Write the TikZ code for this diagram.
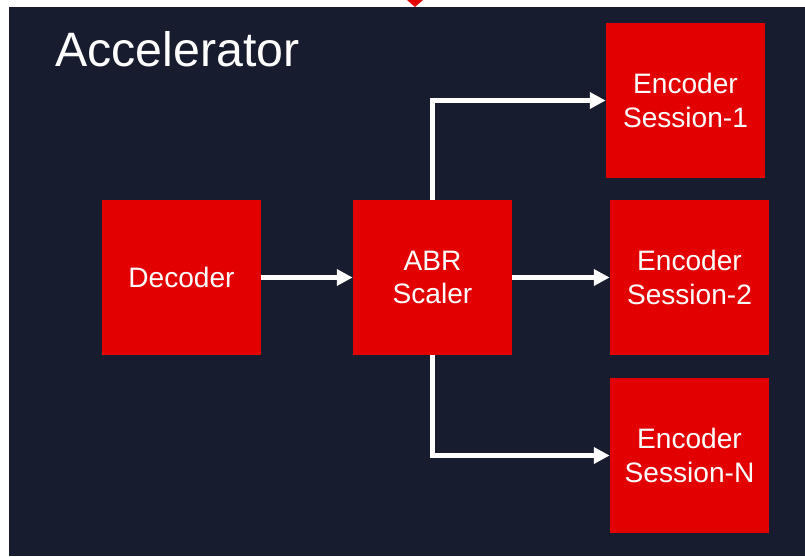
\documentclass[tikz,border=0pt]{standalone}
\usepackage{fontspec}
\setmainfont{Liberation Sans}
\usepackage{tikz}
\usetikzlibrary{arrows.meta}
\definecolor{navy}{HTML}{171C2E}
\definecolor{hwred}{HTML}{E30000}
\definecolor{text}{HTML}{FFFFFF}
\tikzset{
  block/.style={fill=hwred, minimum width=3.18cm, minimum height=3.1cm, inner sep=0pt,
    text=text, align=center, font=\fontsize{16}{19}\selectfont},
  flow/.style={draw=text, line width=2.3pt, -{Triangle[length=9pt,width=9pt]}},
  title/.style={text=text, font=\fontsize{27.5}{33}\selectfont, inner sep=0pt},
}

\begin{document}
\begin{tikzpicture}[x=0.02cm, y=-0.02cm]
  \useasboundingbox (0,0) rectangle (805,556);
  \fill[navy] (9,7) rectangle (805,556);
  % arrow tip coming in from above
  \fill[hwred] (407,0) -- (423,0) -- (415,7) -- cycle;
  \node[title, anchor=base west] (acc) at (55,66) {Accelerator};
  \node[block] (dec) at (181.5,277.5) {Decoder};
  \node[block] (abr) at (432.5,277.5) {ABR\\Scaler};
  \node[block] (enc1) at (685.5,100.5) {Encoder\\Session-1};
  \node[block] (enc2) at (689.5,277.5) {Encoder\\Session-2};
  \node[block] (encN) at (689.5,455.5) {Encoder\\Session-N};
  \draw[flow] (dec) -- (abr);
  \draw[flow] (abr) -- (enc2);
  \draw[flow] (abr.north) |- (enc1.west);
  \draw[flow] (abr.south) |- (encN.west);
\end{tikzpicture}
\end{document}
